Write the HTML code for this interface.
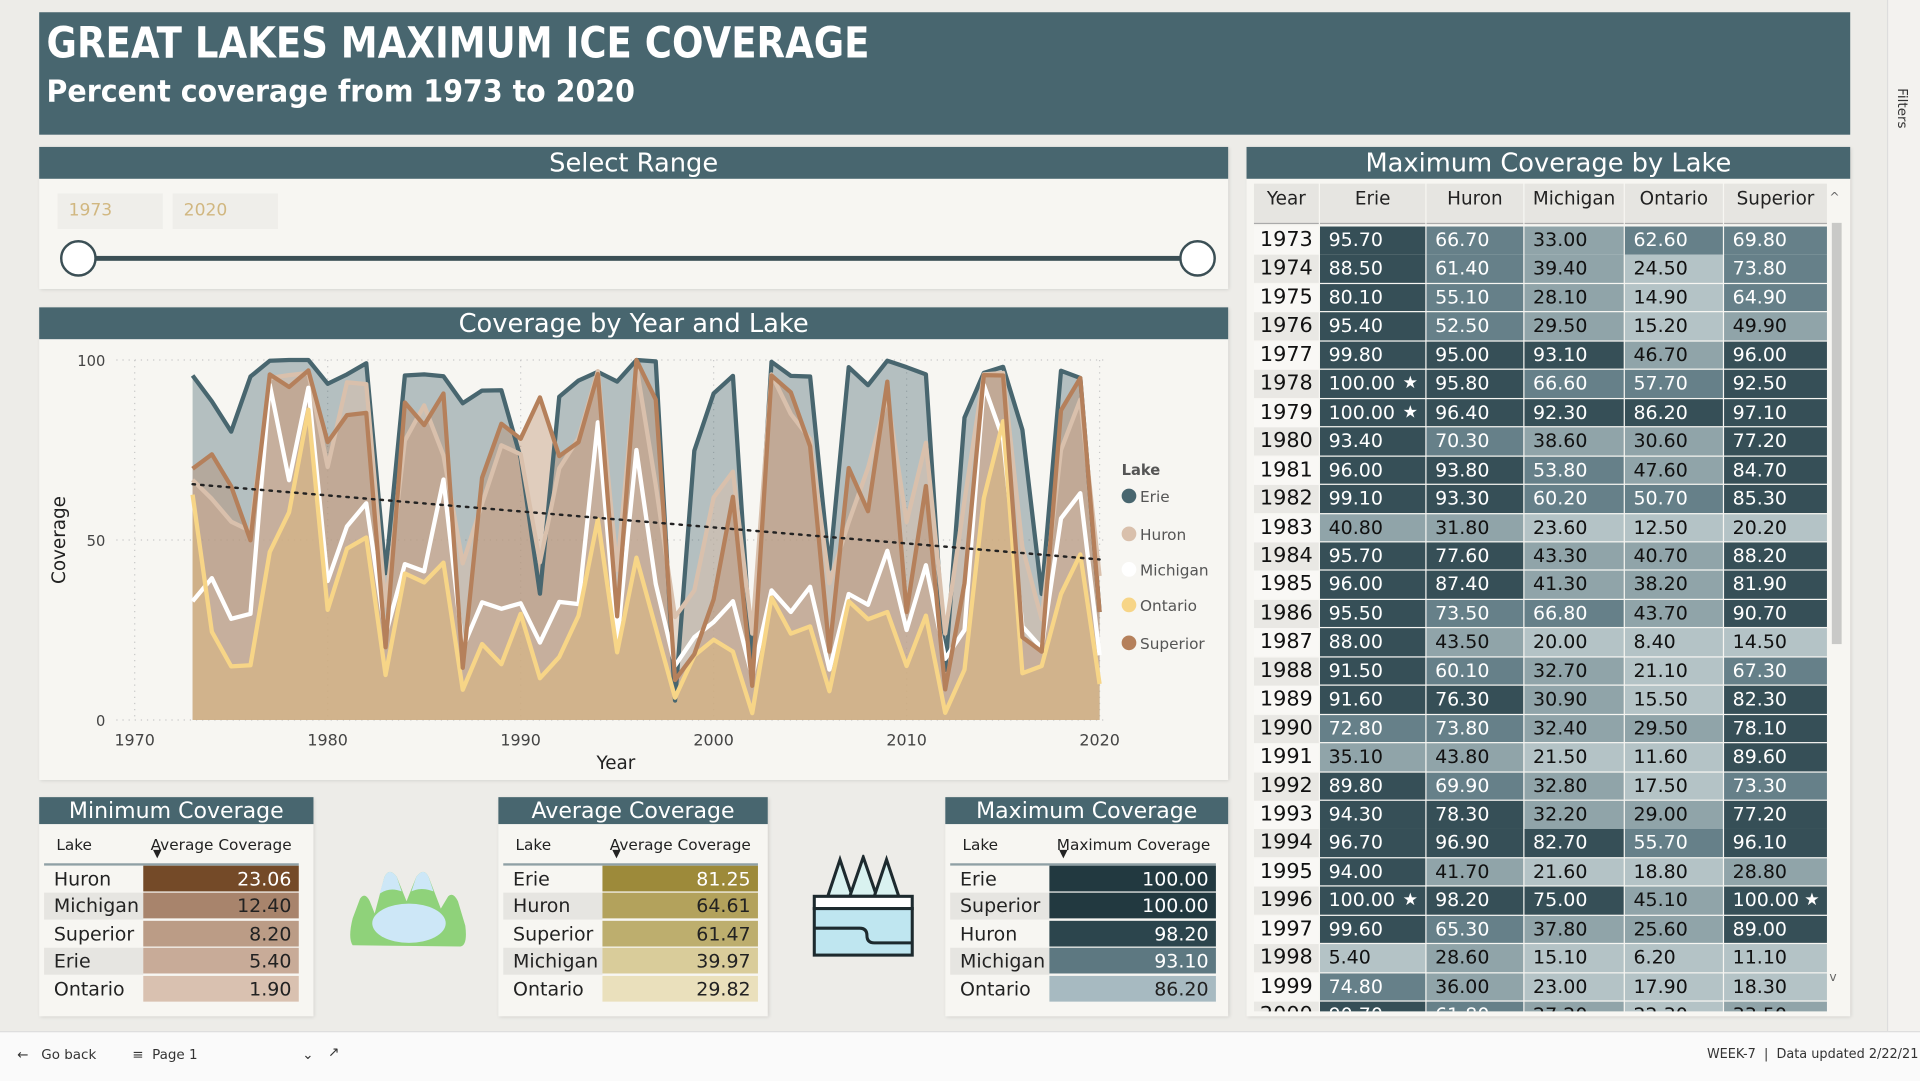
<!DOCTYPE html>
<html><head><meta charset="utf-8">
<style>
html,body{margin:0;padding:0;width:1920px;height:1080px;overflow:hidden;background:#efeeea;font-family:"DejaVu Sans","Liberation Sans",sans-serif;}
#root{position:absolute;left:0;top:0;width:1568px;height:882px;transform:scale(1.22449);transform-origin:0 0;background:#edece8;}
.abs{position:absolute;white-space:nowrap;}
.hdr{background:#48666f;color:#fff;text-align:center;font-size:21px;line-height:26px;}
.panel{background:#f7f6f2;box-shadow:1px 1px 3px rgba(0,0,0,0.12);}
</style></head><body>
<div id="root">
  <div class="abs" style="left:32px;top:10px;width:1479px;height:100px;background:#48666f;"></div>
  <div class="abs" style="left:38px;top:16px;color:#fff;font-weight:bold;font-size:35px;transform:scaleX(0.865);transform-origin:0 0;">GREAT LAKES MAXIMUM ICE COVERAGE</div>
  <div class="abs" style="left:38px;top:60px;color:#fff;font-weight:bold;font-size:25px;transform:scaleX(0.93);transform-origin:0 0;">Percent coverage from 1973 to 2020</div>

  <div class="abs panel" style="left:32px;top:120px;width:971px;height:116px;"></div>
  <div class="abs hdr" style="left:32px;top:120px;width:971px;height:26px;">Select Range</div>
  <div class="abs" style="left:47px;top:158px;width:86px;height:29px;background:#efeeea;color:#d1b780;font-size:14px;line-height:29px;padding-left:9px;box-sizing:border-box;">1973</div>
  <div class="abs" style="left:141px;top:158px;width:86px;height:29px;background:#efeeea;color:#d1b780;font-size:14px;line-height:29px;padding-left:9px;box-sizing:border-box;">2020</div>
  <div class="abs" style="left:64px;top:209px;width:914px;height:4px;background:#3b4f55;"></div>
  <div class="abs" style="left:49px;top:196px;width:26px;height:26px;border:2px solid #3b4f55;border-radius:50%;background:#fff;"></div>
  <div class="abs" style="left:963px;top:196px;width:26px;height:26px;border:2px solid #3b4f55;border-radius:50%;background:#fff;"></div>

  <div class="abs panel" style="left:32px;top:251px;width:971px;height:386px;"></div>
  <div class="abs hdr" style="left:32px;top:251px;width:971px;height:26px;">Coverage by Year and Lake</div>
  <svg class="abs" id="chart" style="left:0;top:0;" width="1010" height="640"></svg>

  <div class="abs panel" style="left:32px;top:651px;width:224px;height:179px;"></div>
  <div class="abs hdr" style="left:32px;top:651px;width:224px;height:22px;line-height:23px;font-size:18px;">Minimum Coverage</div>
  <div class="abs panel" style="left:407px;top:651px;width:220px;height:179px;"></div>
  <div class="abs hdr" style="left:407px;top:651px;width:220px;height:22px;line-height:23px;font-size:18px;">Average Coverage</div>
  <div class="abs panel" style="left:772px;top:651px;width:231px;height:179px;"></div>
  <div class="abs hdr" style="left:772px;top:651px;width:231px;height:22px;line-height:23px;font-size:18px;">Maximum Coverage</div>
  <div id="cards"></div>

  <svg class="abs" style="left:284px;top:706px;" width="100" height="70" viewBox="0 0 100 70">
    <path d="M4 66 Q0 60 4 44 L10 28 Q14 22 18 30 L22 40 L30 10 Q34 2 40 10 L48 30 L56 10 Q62 2 66 10 L76 36 L82 26 Q86 22 90 30 L96 50 Q98 66 92 67 Z" fill="#8fd27a"/>
    <path d="M30 10 Q34 2 40 10 L44 22 Q34 18 26 24 Z M56 10 Q62 2 66 10 L70 22 Q60 18 52 22 Z" fill="#cde7f7"/>
    <ellipse cx="50" cy="48" rx="30" ry="16" fill="#cde7f7"/>
  </svg>
  <svg class="abs" style="left:662px;top:698px;" width="86" height="86" viewBox="0 0 86 86">
    <g fill="#d9f2f0" stroke="#1d2a2e" stroke-width="2.5">
      <path d="M14 34 L24 4 L34 34 Z"/><path d="M32 34 L43 2 L54 34 Z"/><path d="M52 34 L62 4 L72 34 Z"/>
      <rect x="3" y="34" width="80" height="10" fill="#fff"/>
      <rect x="3" y="44" width="80" height="38" fill="#bfe6f0"/>
      <path d="M3 60 H40 Q46 60 46 66 Q46 72 52 72 H83" fill="none"/>
    </g>
  </svg>

  <div class="abs panel" style="left:1018px;top:120px;width:493px;height:710px;"></div>
  <div class="abs hdr" style="left:1018px;top:120px;width:493px;height:26px;">Maximum Coverage by Lake</div>
  <div class="abs" id="tbl" style="left:1024px;top:148px;width:470px;height:678px;overflow:hidden;"></div>
  <div class="abs" style="left:1496px;top:182px;width:8px;height:344px;background:#c9c9c7;"></div>
  <div class="abs" style="left:1494px;top:156px;font-size:10px;color:#666;">^</div>
  <div class="abs" style="left:1494px;top:793px;font-size:10px;color:#666;">v</div>

  <div class="abs" style="left:1541px;top:0;width:27px;height:842px;background:#f3f2ef;border-left:1px solid #ddd;"></div>
  <div class="abs" style="left:1547px;top:72px;font-size:11px;color:#333;writing-mode:vertical-rl;">Filters</div>

  <div class="abs" style="left:0;top:842px;width:1568px;height:40px;background:#fafafa;border-top:1px solid #ddd;font-size:11px;color:#333;">
    <span class="abs" style="left:14px;top:12px;">&#8592;&nbsp;&nbsp;&nbsp;Go back</span>
    <span class="abs" style="left:108px;top:12px;">&#8801;&nbsp; Page 1 <span style="margin-left:82px;">&#8964;</span></span>
    <span class="abs" style="left:268px;top:10px;">&#8599;</span>
    <span class="abs" style="left:1394px;top:12px;font-size:10.5px;">WEEK-7 &nbsp;|&nbsp; Data updated 2/22/21</span>
  </div>
</div>
<script>
const years=[1973,1974,1975,1976,1977,1978,1979,1980,1981,1982,1983,1984,1985,1986,1987,1988,1989,1990,1991,1992,1993,1994,1995,1996,1997,1998,1999,2000,2001,2002,2003,2004,2005,2006,2007,2008,2009,2010,2011,2012,2013,2014,2015,2016,2017,2018,2019,2020];
const erie=[95.7,88.5,80.1,95.4,99.8,100,100,93.4,96,99.1,40.8,95.7,96,95.5,88,91.5,91.6,72.8,35.1,89.8,94.3,96.7,94,100,99.6,5.4,74.8,90.7,95.6,13.7,99.5,95.6,95.4,42,98,93,99.8,98,96,13.9,84,96.4,98.1,80.6,35,97,95,30];
const huron=[66.7,61.4,55.1,52.5,95,95.8,96.4,70.3,93.8,93.3,31.8,77.6,87.4,73.5,43.5,60.1,76.3,73.8,43.8,69.9,78.3,96.9,41.7,98.2,65.3,28.6,36,61.8,69,24,96,85,78,38,55,70,90,55,77,24,61,96,96.4,48,28,75,89,40];
const michigan=[33,39.4,28.1,29.5,93.1,66.6,92.3,38.6,53.8,60.2,23.6,43.3,41.3,66.8,20,32.7,30.9,32.4,21.5,32.8,32.2,82.7,21.6,75,37.8,15.1,23,27.2,33,12,36,30,37,14,35,32,47,25,43,17,25,93.1,78,26,20,56,63,18];
const ontario=[62.6,24.5,14.9,15.2,46.7,57.7,86.2,30.6,47.6,50.7,12.5,40.7,38.2,43.7,8.4,21.1,15.5,29.5,11.6,17.5,29,55.7,18.8,45.1,25.6,6.2,17.9,22.3,19,1.9,34,24,26,8,33,28,30,15,29,2,14,61.6,83,13,15,35,46,10];
const superior=[69.8,73.8,64.9,49.9,96,92.5,97.1,77.2,84.7,85.3,20.2,88.2,81.9,90.7,14.5,67.3,82.3,78.1,89.6,73.3,77.2,96.1,28.8,100,89,11.1,18.3,33.5,62,9.5,95.7,91,76,19,70,58,94,30,65,8.5,38,95.8,95.7,23,19,86,95,30];
const trendYears=[1973,2020];
const trendValues=[65.5,44.6];
const yTicks=[0,50,100];
const xTicks=[1970,1980,1990,2000,2010,2020];

const NS="http://www.w3.org/2000/svg";
const svg=document.getElementById('chart');
const X=y=>110+(y-1970)*15.76;
const Y=v=>588-v*2.94;
function mk(tag,attrs){const e=document.createElementNS(NS,tag);for(const k in attrs)e.setAttribute(k,attrs[k]);svg.appendChild(e);return e;}
yTicks.forEach(t=>{
  const g=mk('line',{x1:95,x2:905,y1:Y(t),y2:Y(t),stroke:'#c8c8c8','stroke-dasharray':'1,4'});
  
  
  const l=mk('text',{x:86,y:Y(t)+5,'text-anchor':'end','font-size':12,fill:'#444','font-family':'DejaVu Sans, sans-serif'});
  l.textContent=t;
  
  
});
xTicks.forEach(t=>{
  const g=mk('line',{x1:X(t),x2:X(t),y1:294,y2:588,stroke:'#c8c8c8','stroke-dasharray':'1,4'});
  
  
  const l=mk('text',{x:X(t),y:609,'text-anchor':'middle','font-size':13,fill:'#444','font-family':'DejaVu Sans, sans-serif'});
  l.textContent=t;
  
  
});
const series=[
 {n:'erie',d:erie,c:'#48666f',f:'rgba(72,102,111,0.38)'},
 {n:'huron',d:huron,c:'#d9c0ac',f:'rgba(217,192,172,0.55)'},
 {n:'michigan',d:michigan,c:'#ffffff',f:'rgba(255,255,255,0.15)'},
 {n:'ontario',d:ontario,c:'#f7d587',f:'rgba(247,213,135,0.45)'},
 {n:'superior',d:superior,c:'#b5805b',f:'rgba(181,128,91,0.35)'}
];
series.forEach(s=>{
  let pts=s.d.map((v,i)=>X(years[i])+','+Y(v)).join(' L');
  const a=mk('path',{d:'M'+X(years[0])+','+Y(0)+' L'+pts+' L'+X(years[years.length-1])+','+Y(0)+' Z',fill:s.f});
  
  
});
series.forEach(s=>{
  let pts=s.d.map((v,i)=>X(years[i])+','+Y(v)).join(' L');
  const l=mk('path',{d:'M'+pts,fill:'none',stroke:s.c,'stroke-width':3.5,'stroke-linejoin':'round'});
  
  
});
const tr=mk('line',{x1:X(trendYears[0]),y1:Y(trendValues[0]),x2:X(trendYears[1]),y2:Y(trendValues[1]),stroke:'#222','stroke-width':2,'stroke-dasharray':'2,5','stroke-linecap':'round'});


const yt=mk('text',{x:53,y:441,'text-anchor':'middle','font-size':15,fill:'#222',transform:'rotate(-90 53 441)','font-family':'DejaVu Sans, sans-serif'});
yt.textContent='Coverage';


const xt=mk('text',{x:503,y:628,'text-anchor':'middle','font-size':15,fill:'#222','font-family':'DejaVu Sans, sans-serif'});
xt.textContent='Year';


const lt=mk('text',{x:916,y:388,'font-size':12,'font-weight':'bold',fill:'#555','font-family':'DejaVu Sans, sans-serif'});
lt.textContent='Lake';


const legNames=['Erie','Huron','Michigan','Ontario','Superior'];
const legY=[405,436,465,494,525];
legNames.forEach((n,i)=>{
  const c=mk('circle',{cx:922,cy:legY[i],r:6,fill:series[i].c});
  
  
  const t=mk('text',{x:931,y:legY[i]+5,'font-size':12.5,fill:'#555','font-family':'DejaVu Sans, sans-serif'});
  t.textContent=n;
  
  
});

const minLakes=['Huron','Michigan','Superior','Erie','Ontario'];
const minVals=['23.06','12.40','8.20','5.40','1.90'];
const minCols=['#744a28','#a8846c','#bb9c86','#c8ab98','#d9c1b0'];
const avgLakes=['Erie','Huron','Superior','Michigan','Ontario'];
const avgVals=['81.25','64.61','61.47','39.97','29.82'];
const avgCols=['#9d8a3a','#b3a25c','#bdae6e','#d9cc9a','#eae0bc'];
const maxLakes=['Erie','Superior','Huron','Michigan','Ontario'];
const maxVals=['100.00','100.00','98.20','93.10','86.20'];
const maxCols=['#223940','#223940','#2c454d','#5d7881','#a7bac1'];
const cards=document.getElementById('cards');
function card(left,w1,w2,hdr,lakes,vals,cols,name){
  const h=document.createElement('div');
  h.className='abs';
  h.style.cssText=`left:${left}px;top:681px;width:${w1+w2}px;height:24px;border-bottom:2px solid #8fa0a5;font-size:12.5px;color:#222;`;
  h.innerHTML=`<span class="abs" style="left:10px;top:1px;">Lake</span><span class="abs" style="left:${w1+6}px;top:1px;">${hdr}</span><span class="abs" style="left:${w1+8}px;top:12px;font-size:9px;">&#9660;</span>`;
  
  
  cards.appendChild(h);
  lakes.forEach((l,i)=>{
    const r=document.createElement('div');
    r.className='abs';
    r.style.cssText=`left:${left}px;top:${707+i*22.4}px;width:${w1+w2}px;height:22px;font-size:15.5px;`;
    r.innerHTML=`<div class="abs" style="left:0;top:0;width:${w1}px;height:22px;background:${i%2?'#e6e5e1':'#f7f6f2'};line-height:22px;padding-left:8px;box-sizing:border-box;color:#222;">${l}</div><div class="abs" style="left:${w1}px;top:0;width:${w2}px;height:21px;background:${cols[i]};line-height:22px;text-align:right;padding-right:6px;box-sizing:border-box;color:${i===0||name==='max'&&i<4?'#fff':'#222'};">${vals[i]}</div>`;
    
    
    cards.appendChild(r);
  });
}
card(36,81,127,'Average Coverage',minLakes,minVals,minCols,'min');
card(411,81,127,'Average Coverage',avgLakes,avgVals,avgCols,'avg');
card(776,81,136,'Maximum Coverage',maxLakes,maxVals,maxCols,'max');

const tbl=document.getElementById('tbl');
const colX=[0,54,141,221,303,384];
const colW=[54,87,80,82,81,85];
const heads=['Year','Erie','Huron','Michigan','Ontario','Superior'];
heads.forEach((h,i)=>{
  const d=document.createElement('div');
  d.className='abs';
  d.style.cssText=`left:${colX[i]}px;top:2px;width:${colW[i]-1}px;height:32px;background:#e6e5e1;font-size:15px;color:#222;text-align:center;line-height:24px;border-bottom:1px solid #aaa;`;
  d.textContent=h;
  
  
  tbl.appendChild(d);
});
function bin(v){if(v>=75)return['#364f57','#fff'];if(v>=50)return['#668089','#fff'];if(v>=25)return['#90a4a9','#111'];return['#b4c3c6','#111'];}
const tableYears=years.slice(0,28);
tableYears.forEach((yr,i)=>{
  const top=37+i*23.45;
  const vals=[erie[i],huron[i],michigan[i],ontario[i],superior[i]];
  const yd=document.createElement('div');
  yd.className='abs';
  yd.style.cssText=`left:0;top:${top}px;width:53px;height:23px;background:${i%2?'#e9e8e4':'#f9f8f5'};font-size:17px;line-height:23px;text-align:center;color:#111;`;
  yd.textContent=yr;
  
  
  tbl.appendChild(yd);
  vals.forEach((v,j)=>{
    const c=document.createElement('div');
    const [bg,fg]=bin(v);
    c.className='abs';
    c.style.cssText=`left:${colX[j+1]}px;top:${top}px;width:${colW[j+1]-1}px;height:22.5px;background:${bg};color:${fg};font-size:15.5px;line-height:23px;padding-left:7px;box-sizing:border-box;`;
    c.textContent=v.toFixed(2);
    
    
    if(v>=100){
      const st=document.createElement('span');
      st.style.cssText='position:absolute;right:6px;top:0;font-size:14px;';
      st.textContent='\u2605';
      c.appendChild(st);
    }
    tbl.appendChild(c);
  });
});
</script>
</body></html>
